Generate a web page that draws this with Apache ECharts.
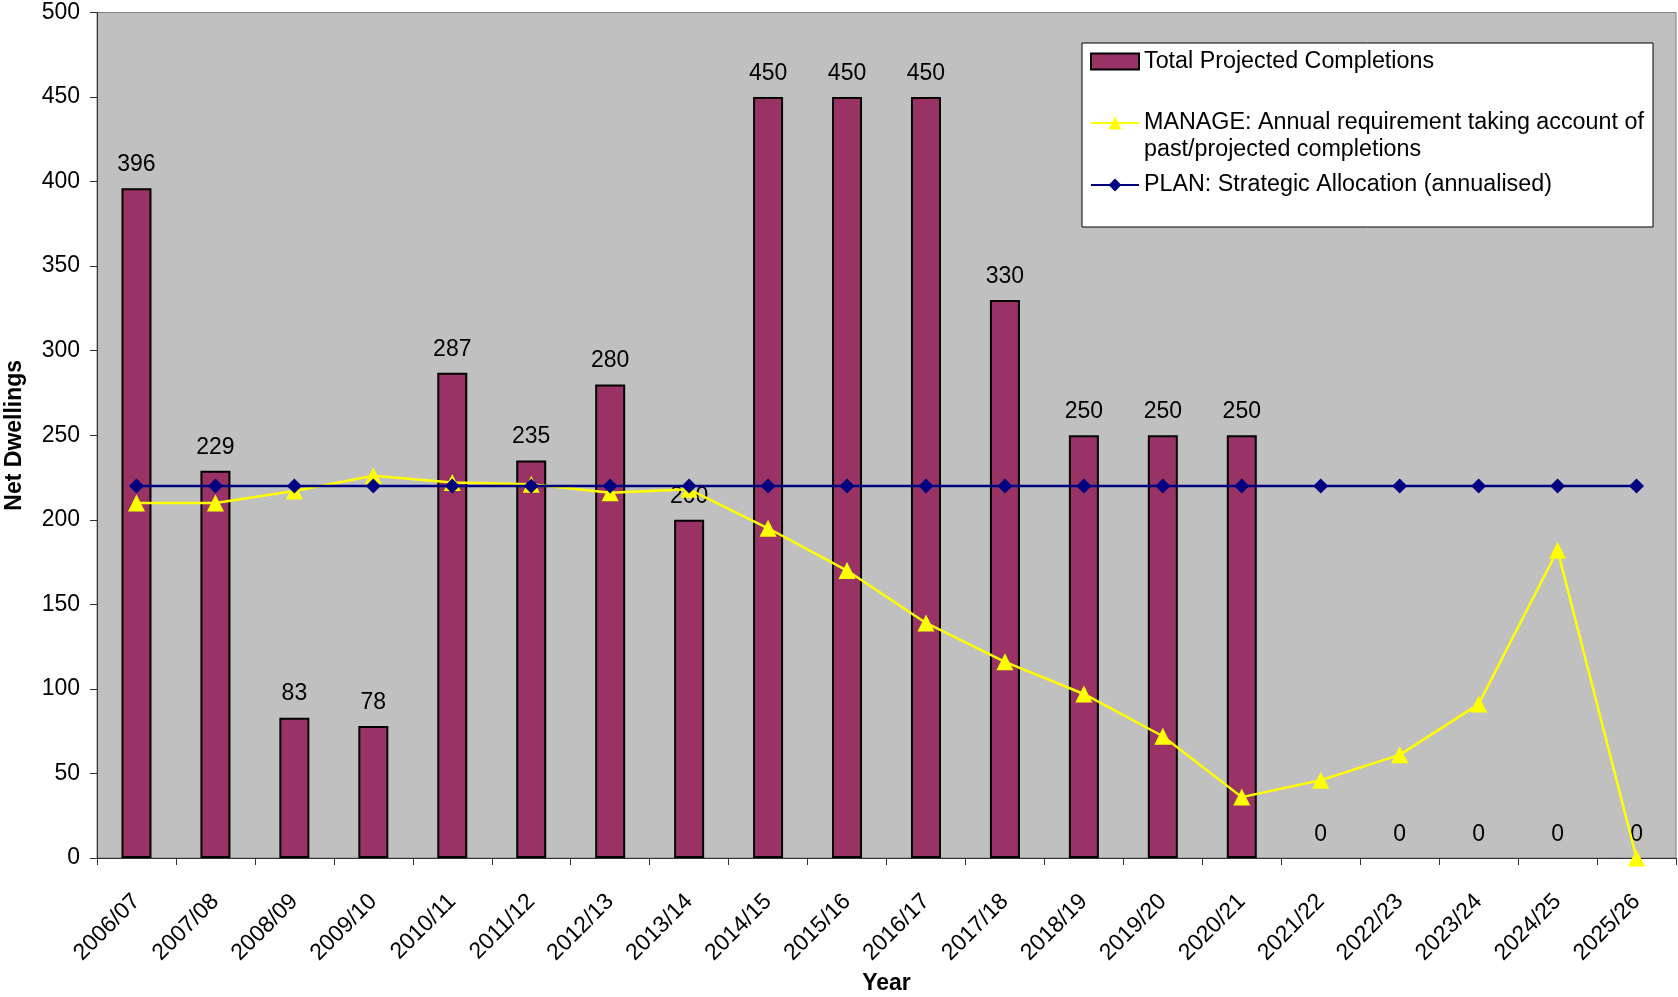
<!DOCTYPE html>
<html>
<head>
<meta charset="utf-8">
<script src="https://cdn.jsdelivr.net/npm/echarts@6/dist/echarts.min.js"></script>
<style>
html,body{margin:0;padding:0;background:#fff;}
#chart{width:1678px;height:997px;}
</style>
</head>
<body>
<div id="chart"></div>
<script>
const categories = ['2006/07','2007/08','2008/09','2009/10','2010/11','2011/12','2012/13','2013/14','2014/15','2015/16','2016/17','2017/18','2018/19','2019/20','2020/21','2021/22','2022/23','2023/24','2024/25','2025/26'];
const completions = [396, 229, 83, 78, 287, 235, 280, 200, 450, 450, 450, 330, 250, 250, 250, 0, 0, 0, 0, 0];
const manage = [210, 210, 217, 226, 222, 221, 216, 218, 195, 170, 139, 116, 97, 72, 36, 46, 61, 91, 182, 0];
const plan = [220, 220, 220, 220, 220, 220, 220, 220, 220, 220, 220, 220, 220, 220, 220, 220, 220, 220, 220, 220];
const yTicks = { min: 0, max: 500, interval: 50 };

const nameBars = 'Total Projected Completions';
const nameManage = 'MANAGE: Annual requirement taking account of past/projected completions';
const namePlan = 'PLAN: Strategic Allocation (annualised)';

const FONT = '"Liberation Sans", Arial, sans-serif';
const FS = 23;
const chart = echarts.init(document.getElementById('chart'), null, {renderer: 'canvas'});

const legendBase = {
  orient: 'vertical',
  padding: 0,
  itemWidth: 48,
  itemHeight: 16,
  left: 1090,
  textStyle: {fontFamily: FONT, fontSize: 23.3, color: '#000', lineHeight: 27},
  selectedMode: false
};

const barData = completions.map(v => v === 0 ? {value: v, itemStyle: {borderWidth: 0}} : v);

chart.setOption({
  animation: false,
  backgroundColor: '#fff',
  textStyle: {fontFamily: FONT},
  grid: {
    left: 97, top: 12.5, right: 2, bottom: 139,
    outerBoundsMode: 'none',
    containLabel: false,
    show: true, backgroundColor: '#C0C0C0', borderColor: '#808080', borderWidth: 1
  },
  graphic: [{
    type: 'rect', z: 50,
    shape: {x: 1082, y: 43, width: 571, height: 184},
    style: {fill: '#fff', stroke: '#000', lineWidth: 1}
  }],
  legend: [
    Object.assign({}, legendBase, {top: 48, data: [{name: nameBars, icon: 'rect'}], z: 60}),
    Object.assign({}, legendBase, {top: 82.5, data: [nameManage], z: 60,
      formatter: function () { return '\nMANAGE: Annual requirement taking account of\npast/projected completions'; }}),
    Object.assign({}, legendBase, {top: 171.5, data: [namePlan], z: 60})
  ],
  xAxis: {
    type: 'category',
    data: categories,
    name: 'Year',
    nameLocation: 'middle',
    nameGap: 113,
    nameTextStyle: {fontFamily: FONT, fontSize: FS, fontWeight: 'bold', color: '#000'},
    axisLine: {lineStyle: {color: '#333', width: 1}},
    axisTick: {show: true, length: 7, lineStyle: {color: '#333'}},
    axisLabel: {rotate: 45, interval: 0, margin: 40, fontSize: FS, color: '#000', fontFamily: FONT}
  },
  yAxis: {
    type: 'value',
    min: yTicks.min, max: yTicks.max, interval: yTicks.interval,
    name: 'Net Dwellings',
    nameLocation: 'middle',
    nameGap: 71,
    nameTextStyle: {fontFamily: FONT, fontSize: FS, fontWeight: 'bold', color: '#000'},
    axisLine: {show: true, lineStyle: {color: '#333', width: 1}},
    axisTick: {show: true, length: 7, lineStyle: {color: '#333'}},
    axisLabel: {margin: 17, fontSize: FS, color: '#000', fontFamily: FONT},
    splitLine: {show: false}
  },
  series: [
    {
      name: nameBars,
      type: 'bar',
      data: barData,
      barWidth: 30,
      itemStyle: {color: '#993366', borderColor: '#000', borderWidth: 2},
      label: {show: true, position: 'top', distance: 12, fontSize: FS, color: '#000', fontFamily: FONT}
    },
    {
      name: nameManage,
      type: 'line',
      data: manage,
      symbol: 'triangle',
      symbolSize: 17,
      lineStyle: {color: '#FFFF00', width: 2.5},
      itemStyle: {color: '#FFFF00'},
      z: 3
    },
    {
      name: namePlan,
      type: 'line',
      data: plan,
      symbol: 'diamond',
      symbolSize: 15,
      lineStyle: {color: '#000080', width: 2.5},
      itemStyle: {color: '#000080'},
      z: 4
    }
  ]
});
</script>
</body>
</html>
